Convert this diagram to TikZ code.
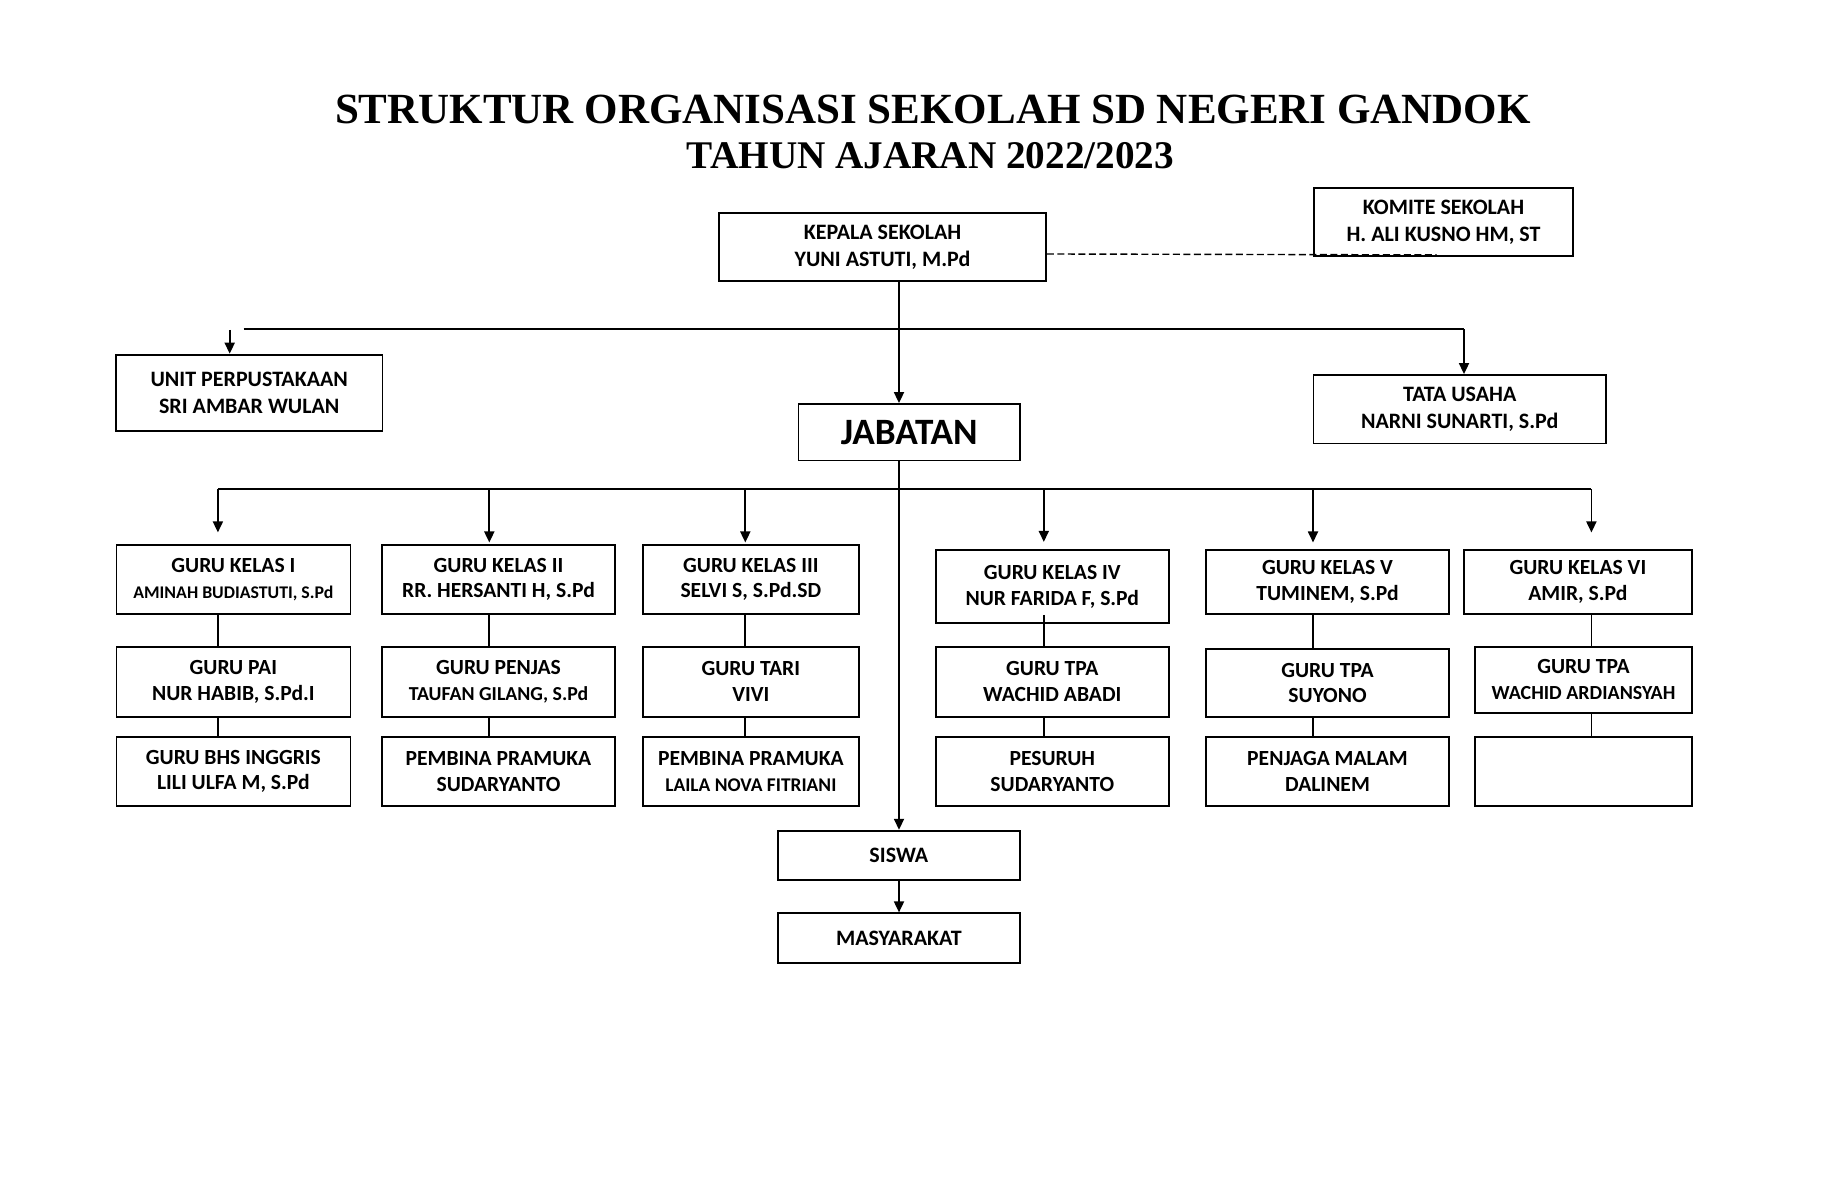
\documentclass[tikz,border=0pt]{standalone}
\usepackage{fontspec}
\setmainfont{Carlito}
\newfontfamily\titlefont{Liberation Serif}
\usetikzlibrary{arrows.meta}
\begin{document}
\begin{tikzpicture}[x=0.5pt,y=-0.5pt,
  box/.style={draw, line width=0.9pt, align=center, inner sep=0pt,
    font=\bfseries\fontsize{10.8}{12.8}\selectfont},
  topbox/.style={box, font=\bfseries\fontsize{11}{13.4}\selectfont},
  conn/.style={line width=0.9pt},
  arr/.style={conn, -{Triangle[length=5.5pt,width=5pt]}},
  dashline/.style={line width=0.7pt, dash pattern=on 3.5pt off 1.75pt},
  titletext/.style={inner sep=0pt, anchor=base, font=\titlefont\bfseries}
]
\useasboundingbox (0,0) rectangle (1836,1202);
\fill[white] (0,0) rectangle (1836,1202);

% title
\node[titletext, font=\titlefont\bfseries\fontsize{21.5}{26}\selectfont] (t1) at (933,123.3) {STRUKTUR ORGANISASI SEKOLAH SD NEGERI GANDOK};
\node[titletext, font=\titlefont\bfseries\fontsize{19.6}{24}\selectfont] (t2) at (930.5,168.3) {TAHUN AJARAN 2022/2023};

% top boxes
\node[topbox, minimum width=163.5pt, minimum height=34pt] (kepala) at (882.5,247) {KEPALA SEKOLAH\\YUNI ASTUTI, M.Pd};
\node[topbox, minimum width=129.5pt, minimum height=34pt] (komite) at (1443.5,222) {KOMITE SEKOLAH\\H. ALI KUSNO HM, ST};
\node[topbox, minimum width=133.25pt, minimum height=38pt] (unit) at (249.25,393) {UNIT PERPUSTAKAAN\\SRI AMBAR WULAN};
\node[topbox, minimum width=146.25pt, minimum height=34.25pt] (tata) at (1459.75,409.25) {TATA USAHA\\NARNI SUNARTI, S.Pd};
\node[box, font=\bfseries\fontsize{18.6}{21}\selectfont, minimum width=110.75pt, minimum height=28.25pt] (jab) at (909.25,432.25) {JABATAN};

% column 1
\node[box, minimum width=117pt, minimum height=34.5pt] (g1a) at (233.4,579.5) {GURU KELAS I\\{\fontsize{8.9}{10.5}\selectfont AMINAH BUDIASTUTI, S.Pd}};
\node[box, minimum width=117pt, minimum height=35pt] (g1b) at (233.4,681.7) {GURU PAI\\NUR HABIB, S.Pd.I};
\node[box, minimum width=117pt, minimum height=34.65pt] (g1c) at (233.4,771.35) {GURU BHS INGGRIS\\LILI ULFA M, S.Pd};
% column 2
\node[box, minimum width=116.5pt, minimum height=34.5pt] (g2a) at (498.5,579.5) {GURU KELAS II\\RR. HERSANTI H, S.Pd};
\node[box, minimum width=116.5pt, minimum height=35pt] (g2b) at (498.5,681.7) {GURU PENJAS\\{\fontsize{9.9}{11.5}\selectfont TAUFAN GILANG, S.Pd}};
\node[box, minimum width=116.5pt, minimum height=34.65pt] (g2c) at (498.5,771.35) {PEMBINA PRAMUKA\\SUDARYANTO};
% column 3
\node[box, minimum width=107.85pt, minimum height=34.5pt] (g3a) at (750.85,579.5) {GURU KELAS III\\SELVI S, S.Pd.SD};
\node[box, minimum width=107.85pt, minimum height=35pt] (g3b) at (750.85,681.7) {GURU TARI\\VIVI};
\node[box, minimum width=107.85pt, minimum height=34.65pt] (g3c) at (750.85,771.35) {PEMBINA PRAMUKA\\{\fontsize{9.7}{11.5}\selectfont LAILA NOVA FITRIANI}};
% column 4
\node[box, minimum width=116.7pt, minimum height=36.65pt] (g4a) at (1052.3,586.65) {GURU KELAS IV\\NUR FARIDA F, S.Pd};
\node[box, minimum width=116.7pt, minimum height=35pt] (g4b) at (1052.3,681.7) {GURU TPA\\WACHID ABADI};
\node[box, minimum width=116.7pt, minimum height=34.65pt] (g4c) at (1052.3,771.35) {PESURUH\\SUDARYANTO};
% column 5
\node[box, minimum width=121.5pt, minimum height=32pt] (g5a) at (1327.5,582) {GURU KELAS V\\TUMINEM, S.Pd};
\node[box, minimum width=121.5pt, minimum height=33.85pt] (g5b) at (1327.5,682.85) {GURU TPA\\SUYONO};
\node[box, minimum width=121.5pt, minimum height=34.65pt] (g5c) at (1327.5,771.35) {PENJAGA MALAM\\DALINEM};
% column 6
\node[box, minimum width=114.1pt, minimum height=32pt] (g6a) at (1577.9,582) {GURU KELAS VI\\AMIR, S.Pd};
\node[box, minimum width=108.5pt, minimum height=33pt] (g6b) at (1583.5,679.7) {GURU TPA\\{\fontsize{10}{11.5}\selectfont WACHID ARDIANSYAH}};
\node[box, minimum width=108.5pt, minimum height=34.65pt] (g6c) at (1583.5,771.35) {};

% bottom
\node[box, font=\bfseries\fontsize{11}{13.4}\selectfont, minimum width=121.15pt, minimum height=24.65pt] (siswa) at (898.85,855.35) {SISWA};
\node[box, font=\bfseries\fontsize{11}{13.4}\selectfont, minimum width=121.15pt, minimum height=24.7pt] (masy) at (898.85,938) {MASYARAKAT};

% coordinates
\coordinate (spine) at (899,0);
\coordinate (busTL) at (243.5,329.3);
\coordinate (busTR) at (1464,329.3);
\coordinate (unitArr) at (229.7,330);
\coordinate (b1) at (217.9,489);
\coordinate (b2) at (489.3,489);
\coordinate (b3) at (745.3,489);
\coordinate (b4) at (1043.8,489);
\coordinate (b5) at (1313,489);
\coordinate (b6) at (1591.4,489);

% connectors
\draw[arr] (kepala.south -| spine) -- (jab.north -| spine);
\draw[dashline] ([yshift=-3.5pt]kepala.east) -- ([xshift=-3.5pt,yshift=1pt]komite.south);
\draw[conn] (busTL) -- (busTR);
\draw[arr] (busTR) -- (tata.north -| busTR);
\draw[arr, shorten >=0.2pt] (unitArr) -- (unit.north -| unitArr);
\draw[arr] (jab.south -| spine) -- (siswa.north -| spine);
\draw[arr] (siswa.south -| spine) -- (masy.north -| spine);

\draw[conn] (b1) -- (b6);
\draw[arr, shorten >=5.85pt] (b1) -- (b1 |- g1a.north);
\draw[arr, shorten >=0.8pt] (b2) -- (b2 |- g2a.north);
\draw[arr, shorten >=0.8pt] (b3) -- (b3 |- g3a.north);
\draw[arr, shorten >=3.6pt] (b4) -- (b4 |- g4a.north);
\draw[arr, shorten >=3.3pt] (b5) -- (b5 |- g5a.north);
\draw[arr, shorten >=8.3pt] (b6) -- (b6 |- g6a.north);

\draw[conn] (b1 |- g1a.south) -- (b1 |- g1b.north);
\draw[conn] (b1 |- g1b.south) -- (b1 |- g1c.north);
\draw[conn] (b2 |- g2a.south) -- (b2 |- g2b.north);
\draw[conn] (b2 |- g2b.south) -- (b2 |- g2c.north);
\draw[conn] (b3 |- g3a.south) -- (b3 |- g3b.north);
\draw[conn] (b3 |- g3b.south) -- (b3 |- g3c.north);
\draw[conn] ([yshift=4.65pt]b4 |- g4a.south) -- (b4 |- g4b.north);
\draw[conn] (b4 |- g4b.south) -- (b4 |- g4c.north);
\draw[conn] (b5 |- g5a.south) -- (b5 |- g5b.north);
\draw[conn] (b5 |- g5b.south) -- (b5 |- g5c.north);
\draw[conn] (b6 |- g6a.south) -- (b6 |- g6b.north);
\draw[conn] (b6 |- g6b.south) -- (b6 |- g6c.north);
\end{tikzpicture}
\end{document}
